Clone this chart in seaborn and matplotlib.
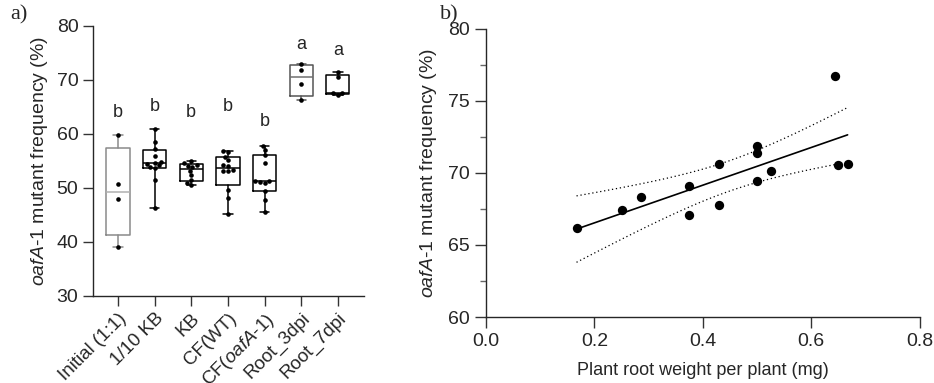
import numpy as np
import pandas as pd
import matplotlib
matplotlib.use("Agg")
import matplotlib.pyplot as plt
import seaborn as sns

# ---------------- data ----------------
categories = ["Initial (1:1)", "1/10 KB", "KB", "CF(WT)", "CF(oafA-1)", "Root_3dpi", "Root_7dpi"]
tick_labels = ["Initial (1:1)", "1/10 KB", "KB", "CF(WT)",
               r"CF($\mathit{oafA}$-$\mathit{1}$)", "Root_3dpi", "Root_7dpi"]

initial = [59.75, 50.7, 47.9, 39.05]
kb_tenth = [61.0, 58.6, 57.3, 56.0, 54.9, 54.7, 54.5, 54.2, 53.9, 53.7, 51.5, 46.2]
kb = [55.0, 54.7, 54.3, 54.1, 53.9, 53.2, 52.4, 51.5, 50.9, 50.5]
cf_wt = [56.85, 56.7, 55.8, 55.2, 54.2, 54.1, 53.3, 53.2, 53.2, 49.6, 48.2, 45.1]
cf_oafa = [57.8, 57.0, 56.1, 54.7, 51.3, 51.2, 51.1, 51.0, 49.4, 47.8, 45.6]
root_3dpi = [73.0, 71.8, 69.3, 66.2]
root_7dpi = [71.4, 70.5, 67.65, 67.5, 67.2]
groups = [initial, kb_tenth, kb, cf_wt, cf_oafa, root_3dpi, root_7dpi]

letters = ["b", "b", "b", "b", "b", "a", "a"]
letter_y = [63.9, 65.05, 63.9, 65.05, 62.4, 76.6, 75.5]

root_weight = [0.167, 0.25, 0.286, 0.375, 0.375, 0.429, 0.429, 0.5, 0.5, 0.5, 0.525, 0.643, 0.65, 0.667]
mutant_freq = [66.2, 67.4, 68.3, 69.1, 67.1, 70.6, 67.75, 71.85, 71.4, 69.45, 70.1, 76.75, 70.55, 70.6]

box_edge = ["#8a8a8a", "black", "black", "black", "black", "#555555", "black"]
median_col = ["#b0b0b0", "black", "black", "black", "black", "#707070", "black"]

# ---------------- style ----------------
sns.set_style("ticks")
plt.rcParams["font.family"] = ["Liberation Sans", "DejaVu Sans"]
plt.rcParams["mathtext.fontset"] = "custom"
plt.rcParams["mathtext.rm"] = "Liberation Sans"
plt.rcParams["mathtext.it"] = "Liberation Sans:italic"
plt.rcParams["axes.linewidth"] = 1.0

fig = plt.figure(figsize=(9.34, 3.83), dpi=100)
axa = fig.add_axes([0.0996, 0.2272, 0.2901, 0.7050])
axb = fig.add_axes([0.5203, 0.1723, 0.4644, 0.7527])

# ---------------- panel a ----------------
long = pd.DataFrame({
    "group": np.repeat(categories, [len(g) for g in groups]),
    "value": np.concatenate(groups),
})
sns.swarmplot(data=long, x="group", y="value", order=categories, color="black",
              size=3.3, ax=axa, zorder=4, warn_thresh=1.0)

for i, g in enumerate(groups):
    arr = np.asarray(g)
    q1, med, q3 = np.percentile(arr, [25, 50, 75], method="weibull")
    stats = [dict(med=med, q1=q1, q3=q3, whislo=arr.min(), whishi=arr.max(), fliers=[])]
    ec = box_edge[i]
    axa.bxp(stats, positions=[i], widths=0.63, manage_ticks=False, showfliers=False,
            patch_artist=False,
            boxprops=dict(color=ec, lw=1.1),
            whiskerprops=dict(color=ec, lw=1.1),
            capprops=dict(color=ec, lw=1.1),
            medianprops=dict(color=median_col[i], lw=1.1),
            capwidths=0.25)
    axa.text(i, letter_y[i], letters[i], ha="center", va="center", fontsize=13)

axa.set_xlim(-0.68, 6.71)
axa.set_ylim(30, 80)
axa.set_yticks([30, 40, 50, 60, 70, 80])
axa.set_xticks(range(len(categories)))
axa.set_xticklabels(tick_labels, rotation=45, ha="right", va="top",
                    rotation_mode="anchor", fontsize=13.5)
axa.tick_params(axis="both", length=7, width=1, color="#333333", labelsize=14)
axa.tick_params(axis="x", labelsize=13.5, pad=3)
axa.set_xlabel("")
axa.set_ylabel(r"$\mathit{oafA}$-$\mathit{1}$ mutant frequency (%)", fontsize=14, labelpad=5)
sns.despine(ax=axa)

# ---------------- panel b ----------------
sns.regplot(x=root_weight, y=mutant_freq, ci=None, color="black", ax=axb,
            scatter_kws=dict(s=45, linewidths=0, alpha=1),
            line_kws=dict(lw=1.2))

x = np.asarray(root_weight)
y = np.asarray(mutant_freq)
n = len(x)
slope, intercept = np.polyfit(x, y, 1)
resid = y - (slope * x + intercept)
s_err = np.sqrt(np.sum(resid ** 2) / (n - 2))
t_crit = 2.179  # t(0.975, df=12)
xs = np.linspace(x.min(), x.max(), 100)
ys = slope * xs + intercept
half = t_crit * s_err * np.sqrt(1 / n + (xs - x.mean()) ** 2 / np.sum((x - x.mean()) ** 2))
axb.plot(xs, ys + half, color="black", lw=0.9, ls=(0, (1, 2.2)))
axb.plot(xs, ys - half, color="black", lw=0.9, ls=(0, (1, 2.2)))

axb.set_xlim(0, 0.8)
axb.set_ylim(60, 80)
axb.set_xticks([0.0, 0.2, 0.4, 0.6, 0.8])
axb.set_yticks([60, 65, 70, 75, 80])
axb.set_yticks([62.5, 67.5, 72.5, 77.5], minor=True)
axb.tick_params(axis="both", which="major", length=8, width=1, color="#333333", labelsize=14)
axb.tick_params(axis="y", which="minor", length=4.5, width=1, color="#666666")
axb.set_xlabel("Plant root weight per plant (mg)", fontsize=13, labelpad=9)
axb.set_ylabel(r"$\mathit{oafA}$-$\mathit{1}$ mutant frequency (%)", fontsize=14, labelpad=7)
sns.despine(ax=axb)

fig.text(10 / 934, 1 - 15 / 383, "a)", fontsize=16, family=["Liberation Serif", "DejaVu Serif"], va="center")
fig.text(440 / 934, 1 - 15 / 383, "b)", fontsize=16, family=["Liberation Serif", "DejaVu Serif"], va="center")

fig.savefig("out.png", dpi=100)
